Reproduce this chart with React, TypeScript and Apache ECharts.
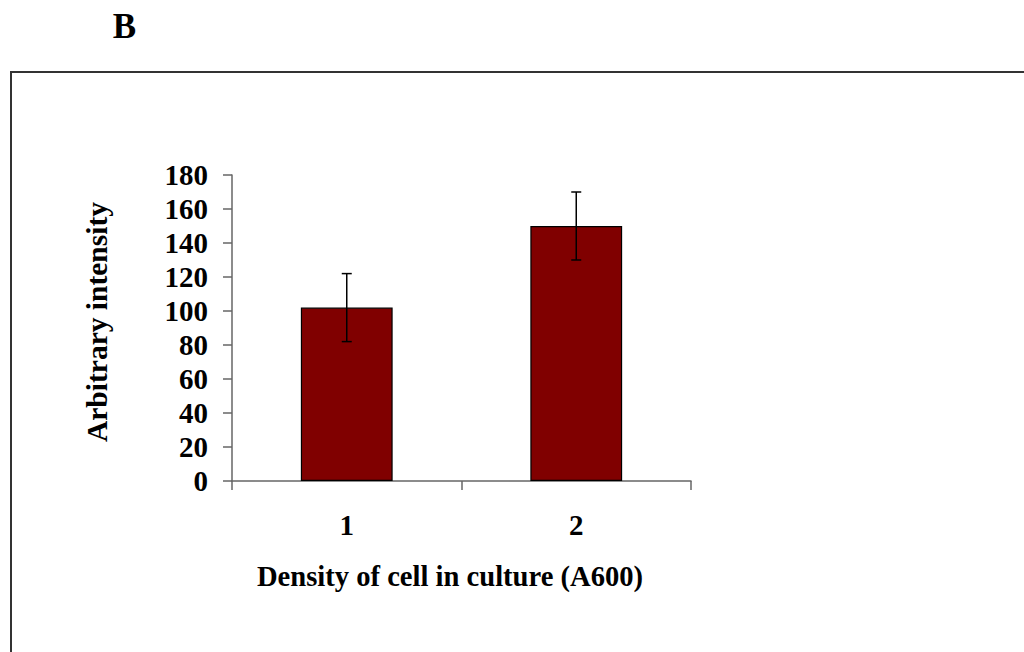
import React, { useEffect, useRef } from "react";
import * as echarts from "echarts";

const categories = ["1", "2"];
const values = [102, 150];
const errors = [20, 20];
const yMin = 0;
const yMax = 180;
const yInterval = 20;
const panelLabel = "B";
const xTitle = "Density of cell in culture (A600)";
const yTitle = "Arbitrary intensity";

const FONT = '"Liberation Serif", "Times New Roman", serif';

export default function App() {
  const ref = useRef<HTMLDivElement>(null);
  useEffect(() => {
    if (!ref.current) return;
    const chart = echarts.init(ref.current, null, { renderer: "svg" });
    const errData = categories.map((_, i) => [i, values[i], errors[i]]);
    chart.setOption({
      animation: false,
      backgroundColor: "#ffffff",
      grid: { left: 232, right: 333, top: 175, bottom: 171, containLabel: false },
      xAxis: {
        type: "category",
        data: categories,
        boundaryGap: true,
        axisLine: { show: true, lineStyle: { color: "#666", width: 1.5 } },
        axisTick: { show: true, alignWithLabel: false, length: 9, inside: false, lineStyle: { color: "#666", width: 1.5 } },
        axisLabel: { margin: 29, color: "#000", fontFamily: FONT, fontWeight: "bold", fontSize: 29 },
        splitLine: { show: false },
      },
      yAxis: {
        type: "value",
        min: yMin,
        max: yMax,
        interval: yInterval,
        axisLine: { show: true, lineStyle: { color: "#666", width: 1.5 } },
        axisTick: { show: true, length: 9, lineStyle: { color: "#666", width: 1.5 } },
        axisLabel: { margin: 24, color: "#000", fontFamily: FONT, fontWeight: "bold", fontSize: 29 },
        splitLine: { show: false },
      },
      series: [
        {
          type: "bar",
          data: values,
          barWidth: "40%",
          itemStyle: { color: "#800000", borderColor: "#000", borderWidth: 1.2 },
        },
        {
          type: "custom",
          data: errData,
          z: 10,
          renderItem: (params: any, api: any) => {
            const x = api.value(0);
            const v = api.value(1);
            const e = api.value(2);
            const hi = api.coord([x, v + e]);
            const lo = api.coord([x, v - e]);
            const cap = 5;
            const style = { stroke: "#000", lineWidth: 1.5 };
            return {
              type: "group",
              children: [
                { type: "line", shape: { x1: hi[0], y1: hi[1], x2: lo[0], y2: lo[1] }, style },
                { type: "line", shape: { x1: hi[0] - cap, y1: hi[1], x2: hi[0] + cap, y2: hi[1] }, style },
                { type: "line", shape: { x1: lo[0] - cap, y1: lo[1], x2: lo[0] + cap, y2: lo[1] }, style },
              ],
            };
          },
        },
      ],
      graphic: [
        {
          type: "rect",
          shape: { x: 11, y: 72, width: 1200, height: 800 },
          style: { fill: "none", stroke: "#333", lineWidth: 2 },
          silent: true,
        },
        {
          type: "text",
          x: 124.5,
          y: 26,
          style: {
            text: panelLabel,
            fontFamily: FONT,
            fontWeight: "bold",
            fontSize: 35,
            fill: "#000",
            align: "center",
            verticalAlign: "middle",
          },
        },
        {
          type: "text",
          x: 450,
          y: 576,
          style: {
            text: xTitle,
            fontFamily: FONT,
            fontWeight: "bold",
            fontSize: 28.6,
            fill: "#000",
            align: "center",
            verticalAlign: "middle",
          },
        },
        {
          type: "text",
          x: 97,
          y: 322,
          rotation: Math.PI / 2,
          style: {
            text: yTitle,
            fontFamily: FONT,
            fontWeight: "bold",
            fontSize: 29.5,
            fill: "#000",
            align: "center",
            verticalAlign: "middle",
          },
        },
      ],
    });
    return () => chart.dispose();
  }, []);
  return (
    <div
      ref={ref}
      style={{ position: "fixed", left: 0, top: 0, width: 1024, height: 652, background: "#fff" }}
    />
  );
}
